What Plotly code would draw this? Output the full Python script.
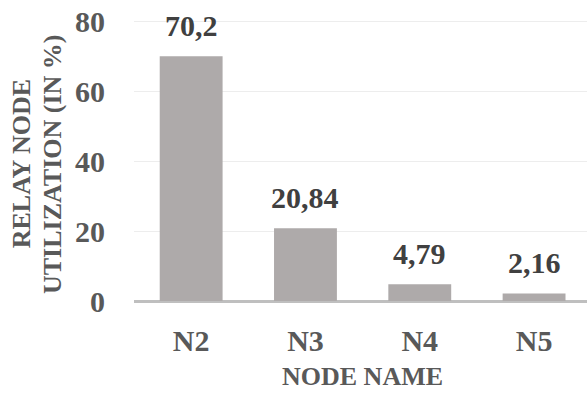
import plotly.graph_objects as go

# Relay node utilisation per node
nodes = ["N2", "N3", "N4", "N5"]
utilization = [70.2, 20.84, 4.79, 2.16]
y_ticks = [0, 20, 40, 60, 80]

FONT = "Liberation Serif, Times New Roman, serif"
BAR_COLOR = "#aeaaaa"
TICK_COLOR = "#595959"
LABEL_COLOR = "#404040"


def fmt(v):
    # decimal comma, as in the source locale
    return f"{v:g}".replace(".", ",")


fig = go.Figure(
    go.Bar(
        x=nodes,
        y=utilization,
        marker=dict(color=BAR_COLOR, line=dict(width=0)),
        hoverinfo="skip",
    )
)

# value labels above the bars
for n, v in zip(nodes, utilization):
    fig.add_annotation(
        x=n, y=v, xref="x", yref="y",
        text=fmt(v), showarrow=False,
        yanchor="bottom", yshift=12,
        font=dict(family=FONT, size=30, color=LABEL_COLOR, weight="bold"),
    )

# two-line vertical axis title
for txt, xpos in [("RELAY NODE", -0.249), ("UTILIZATION (IN %)", -0.181)]:
    fig.add_annotation(
        x=xpos, y=0.455, xref="paper", yref="paper",
        text=txt, showarrow=False, textangle=-90,
        xanchor="center", yanchor="middle",
        font=dict(family=FONT, size=26, color=TICK_COLOR, weight="bold"),
    )

# horizontal axis title, anchored by its bottom edge to stay inside the page
fig.add_annotation(
    x=0.505, y=-0.307, xref="paper", yref="paper",
    text="NODE NAME", showarrow=False,
    xanchor="center", yanchor="bottom",
    font=dict(family=FONT, size=26, color=TICK_COLOR, weight="bold"),
)

fig.update_layout(
    width=587, height=394,
    margin=dict(l=134, r=0, t=0, b=93),
    paper_bgcolor="white", plot_bgcolor="white",
    bargap=0.45, showlegend=False,
    font=dict(family=FONT),
)

fig.update_xaxes(
    range=[-0.5, 3.463],
    showgrid=False, zeroline=False,
    showline=False, ticks="",
    ticklabelstandoff=19,
    tickfont=dict(family=FONT, size=30, color=TICK_COLOR, weight="bold"),
)

fig.update_yaxes(
    range=[0, 86.3],
    tickvals=y_ticks,
    ticktext=[str(t) for t in y_ticks],
    showgrid=True, gridcolor="#ededed", gridwidth=1,
    zeroline=True, zerolinecolor="#bfbfbf", zerolinewidth=2.5,
    showline=False, ticks="",
    ticklabelstandoff=28,
    tickfont=dict(family=FONT, size=30, color=TICK_COLOR, weight="bold"),
)

fig.write_html("out.html")
